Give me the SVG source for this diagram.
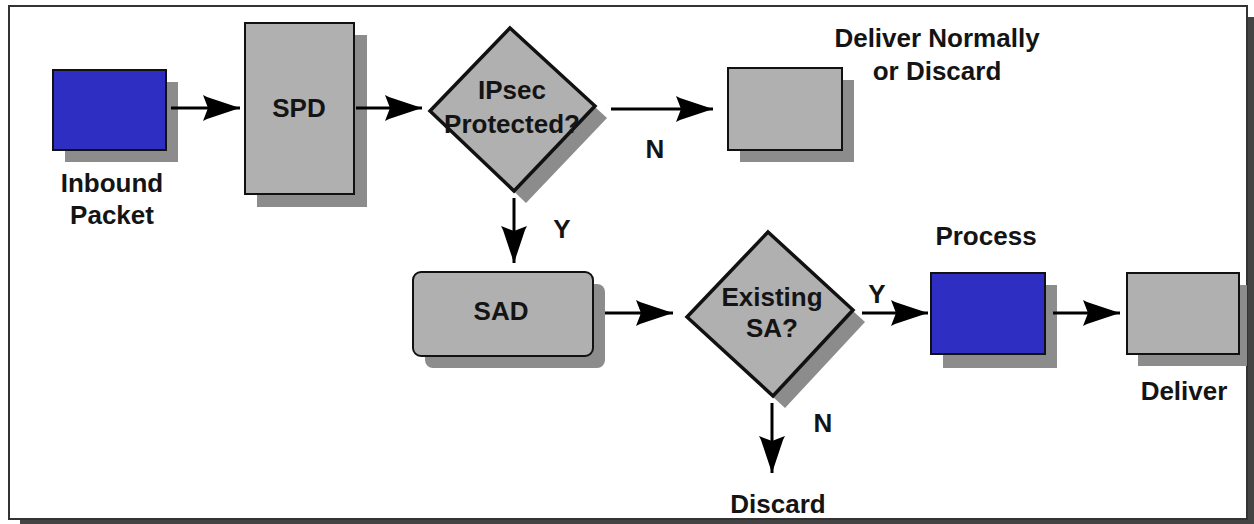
<svg xmlns="http://www.w3.org/2000/svg" width="1254" height="524" viewBox="0 0 1254 524">
<defs>
<style>
.t{font-family:"Liberation Sans",Arial,sans-serif;font-weight:bold;font-size:26px;fill:#141414;text-anchor:middle}
.sh{fill:#8c8c8c}
.gray{fill:#b0b0b0;stroke:#111;stroke-width:2}
.blue{fill:#2e2ec2;stroke:#111;stroke-width:2}
.dia{fill:#b0b0b0;stroke:#111;stroke-width:3.5;stroke-linejoin:miter}
.c{stroke:#000;stroke-width:3;fill:none;marker-end:url(#ah)}
</style>
<marker id="ah" markerUnits="userSpaceOnUse" markerWidth="40" markerHeight="30" viewBox="-38 -15 40 30" refX="0" refY="0" orient="auto">
<path d="M0,0 L-33,-11 L-37,-13 L-32,0 L-37,13 L-33,11 Z" fill="#000"/>
</marker>
</defs>
<rect x="20" y="17" width="1238" height="513" fill="#444"/>
<rect x="9" y="6" width="1238" height="513" fill="#fff" stroke="#333" stroke-width="2"/>

<g id="inbound">
<rect class="sh" x="65" y="82" width="113" height="80"/>
<rect class="blue" x="53" y="70" width="113" height="80"/>
<text class="t" x="112" y="192">Inbound</text>
<text class="t" x="112" y="224">Packet</text>
</g>
<g id="spd">
<rect class="sh" x="257" y="35" width="110" height="172"/>
<rect class="gray" x="245" y="23" width="109" height="171"/>
<text class="t" x="299" y="117">SPD</text>
</g>
<g id="ipsec">
<polygon class="sh" points="522,40 607,118 526,203 442,123"/>
<polygon class="dia" points="510,28 595,106 514,191 430,111"/>
<text class="t" x="512" y="99">IPsec</text>
<text class="t" x="512" y="133">Protected?</text>
</g>
<g id="deliver-normally">
<rect class="sh" x="740" y="80" width="114" height="82"/>
<rect class="gray" x="728" y="68" width="114" height="82"/>
<text class="t" x="937" y="47">Deliver Normally</text>
<text class="t" x="937" y="80">or Discard</text>
</g>
<g id="sad">
<rect class="sh" x="425" y="284" width="180" height="84" rx="8"/>
<rect class="gray" x="413" y="272" width="180" height="84" rx="8"/>
<text class="t" x="501" y="320">SAD</text>
</g>
<g id="existing-sa">
<polygon class="sh" points="780,244 865,322 785,408 699,329"/>
<polygon class="dia" points="768,232 853,310 773,396 687,317"/>
<text class="t" x="772" y="306">Existing</text>
<text class="t" x="772" y="337">SA?</text>
</g>
<g id="process">
<rect class="sh" x="943" y="285" width="114" height="83"/>
<rect class="blue" x="931" y="273" width="114" height="81"/>
<text class="t" x="986" y="245">Process</text>
</g>
<g id="deliver">
<rect class="sh" x="1138" y="285" width="109" height="81"/>
<rect class="gray" x="1127" y="273" width="112" height="81"/>
<text class="t" x="1184" y="400">Deliver</text>
</g>
<g id="discard">
<text class="t" x="778" y="513">Discard</text>
</g>

<g id="connectors">
<line class="c" x1="171" y1="108" x2="240" y2="108"/>
<line class="c" x1="356" y1="108" x2="422" y2="108"/>
<line class="c" x1="611" y1="109" x2="713" y2="109"/>
<line class="c" x1="514" y1="198" x2="514" y2="263"/>
<line class="c" x1="605" y1="313" x2="673" y2="313"/>
<line class="c" x1="862" y1="313" x2="928" y2="313"/>
<line class="c" x1="1053" y1="313" x2="1120" y2="313"/>
<line class="c" x1="772" y1="403" x2="772" y2="473"/>
<text class="t" x="655" y="158">N</text>
<text class="t" x="562" y="238">Y</text>
<text class="t" x="877" y="303">Y</text>
<text class="t" x="823" y="432">N</text>
</g>
</svg>
